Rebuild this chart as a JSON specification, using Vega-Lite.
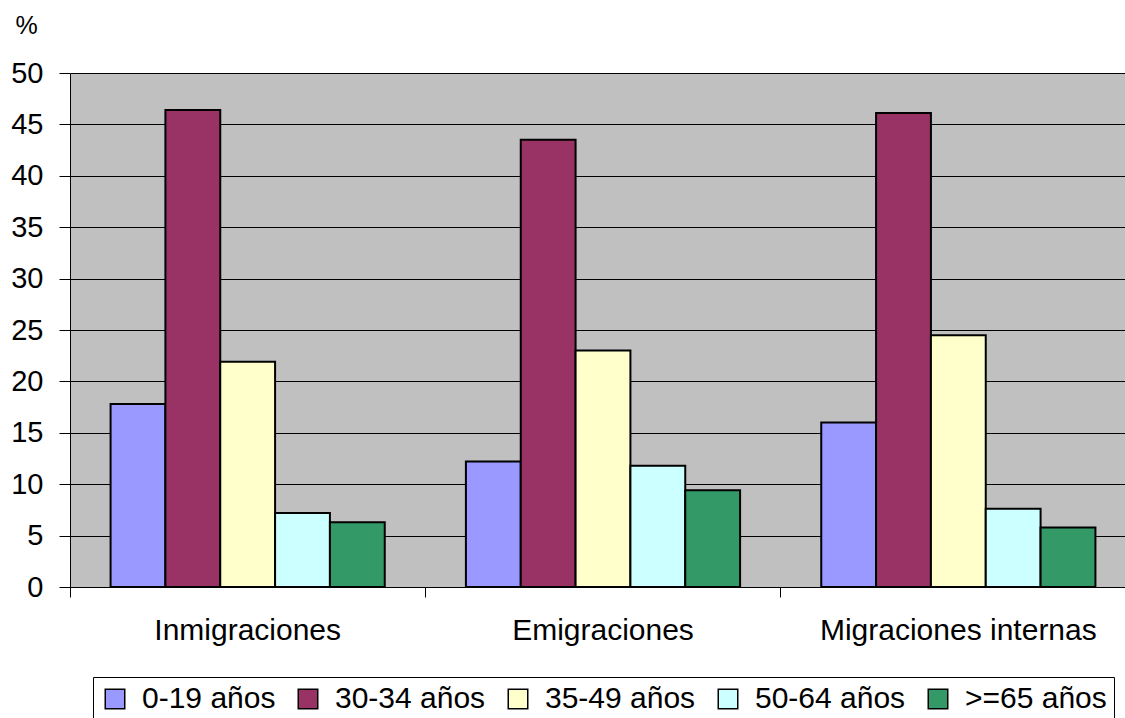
{
  "$schema": "https://vega.github.io/schema/vega-lite/v6.json",
  "width": 1055,
  "height": 514,
  "autosize": {"type": "none"},
  "padding": {"left": 70, "top": 73, "right": 0, "bottom": 131},
  "background": "white",
  "config": {
    "view": {"fill": "#C0C0C0", "stroke": null},
    "font": "Liberation Sans"
  },
  "data": {
    "values": [
      {"grupo": "Inmigraciones", "edad": "0-19 años", "pct": 17.8},
      {"grupo": "Inmigraciones", "edad": "30-34 años", "pct": 46.4},
      {"grupo": "Inmigraciones", "edad": "35-49 años", "pct": 21.9},
      {"grupo": "Inmigraciones", "edad": "50-64 años", "pct": 7.2},
      {"grupo": "Inmigraciones", "edad": ">=65 años", "pct": 6.3},
      {"grupo": "Emigraciones", "edad": "0-19 años", "pct": 12.2},
      {"grupo": "Emigraciones", "edad": "30-34 años", "pct": 43.5},
      {"grupo": "Emigraciones", "edad": "35-49 años", "pct": 23.0},
      {"grupo": "Emigraciones", "edad": "50-64 años", "pct": 11.8},
      {"grupo": "Emigraciones", "edad": ">=65 años", "pct": 9.4},
      {"grupo": "Migraciones internas", "edad": "0-19 años", "pct": 16.0},
      {"grupo": "Migraciones internas", "edad": "30-34 años", "pct": 46.1},
      {"grupo": "Migraciones internas", "edad": "35-49 años", "pct": 24.5},
      {"grupo": "Migraciones internas", "edad": "50-64 años", "pct": 7.6},
      {"grupo": "Migraciones internas", "edad": ">=65 años", "pct": 5.8}
    ]
  },
  "mark": {"type": "bar", "stroke": "black", "strokeWidth": 2, "opacity": 1},
  "encoding": {
    "x": {
      "field": "grupo",
      "type": "nominal",
      "sort": ["Inmigraciones", "Emigraciones", "Migraciones internas"],
      "scale": {"range": [0, 1066], "paddingInner": 0, "paddingOuter": 0},
      "axis": {
        "title": null,
        "labelAngle": 0,
        "labelFontSize": 30,
        "labelColor": "black",
        "labelLimit": 500,
        "bandPosition": 0,
        "tickSize": 10,
        "tickColor": "black",
        "tickWidth": 1,
        "domainColor": "black",
        "domainWidth": 1,
        "labelPadding": 18,
        "grid": false
      }
    },
    "xOffset": {
      "field": "edad",
      "sort": ["0-19 años", "30-34 años", "35-49 años", "50-64 años", ">=65 años"],
      "scale": {"paddingInner": 0, "paddingOuter": 0.74}
    },
    "y": {
      "field": "pct",
      "type": "quantitative",
      "scale": {"domain": [0, 50], "nice": false},
      "axis": {
        "values": [0, 5, 10, 15, 20, 25, 30, 35, 40, 45, 50],
        "title": "%",
        "titleAngle": 0,
        "titleX": -44,
        "titleY": -40,
        "titleAlign": "center",
        "titleBaseline": "alphabetic",
        "titleFontSize": 25,
        "titleFontWeight": "normal",
        "titleColor": "black",
        "labelFontSize": 29,
        "labelColor": "black",
        "labelPadding": 16,
        "tickSize": 11,
        "tickColor": "black",
        "domainColor": "black",
        "gridColor": "black",
        "gridWidth": 1,
        "gridOpacity": 1
      }
    },
    "color": {
      "field": "edad",
      "type": "nominal",
      "sort": ["0-19 años", "30-34 años", "35-49 años", "50-64 años", ">=65 años"],
      "scale": {
        "domain": ["0-19 años", "30-34 años", "35-49 años", "50-64 años", ">=65 años"],
        "range": ["#9999FF", "#993366", "#FFFFCC", "#CCFFFF", "#339966"]
      },
      "legend": {
        "title": null,
        "orient": "none",
        "legendX": 23,
        "legendY": 604,
        "direction": "horizontal",
        "strokeColor": "black",
        "padding": 7,
        "symbolType": "square",
        "symbolSize": 380,
        "symbolStrokeColor": "black",
        "symbolStrokeWidth": 1.5,
        "symbolOpacity": 1,
        "labelFontSize": 30,
        "labelColor": "black",
        "labelOffset": 12,
        "columnPadding": 17,
        "labelLimit": 400
      }
    }
  }
}
